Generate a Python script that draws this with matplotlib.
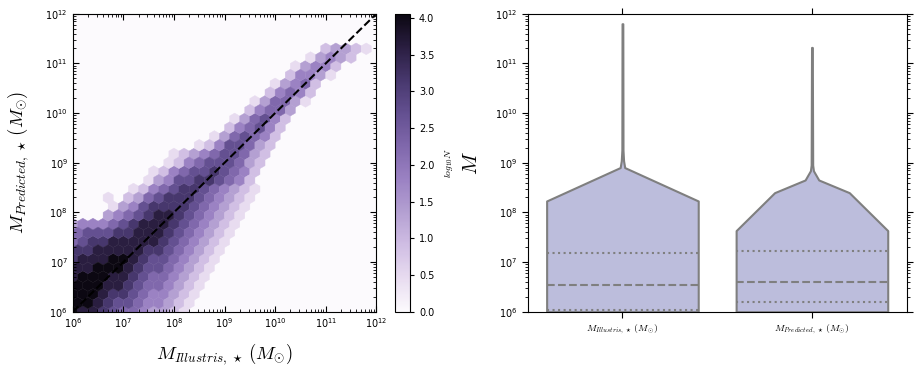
import numpy as np
import matplotlib
matplotlib.use("Agg")
import matplotlib.pyplot as plt
from matplotlib.colors import LinearSegmentedColormap

# hexbin cells (30 x 17 grid over 1e6..1e12 in both axes)
# rows go from the top row (k=30) down to the bottom row (k=0)
# digit d in a row -> log10 N ~ 0.45*d, '.' = empty cell
hex_first_col = [25, 23, 22, 21, 20, 19, 18, 17, 16, 15, 14, 12, 10, 9, 8, 7,
                 6, 3, 4, 3, 0, 0, 0, 0, 0, 0, 0, 0, 0, 0, 0]
hex_levels = [
    "23321",
    "13432",
    "13442",
    "24431",
    "13452",
    "24542",
    "135531",
    "24553",
    "135642",
    "245642",
    "1356542",
    "12466532",
    "1234566532",
    "1245666532",
    "12456676542",
    "13466776542",
    "1245677654321",
    "1.2356777654321",
    "13467777654321",
    "34567887654321",
    "34445678887654321",
    "5666778887654321",
    "5677888887654321",
    "778888877654321",
    "788899876654321",
    "88999876654321",
    "89998876554321",
    "9998876554321",
    "9998776544321",
    "998766544321",
    "988765543321",
]

# violin outlines (mass, half width) and quartiles
violin_labels = [r'$M_{Illustris,\,\star}\,(M_{\odot})$',
                 r'$M_{Predicted,\,\star}\,(M_{\odot})$']
illustris_y = [1e6, 1.7e8, 8.0e8, 1.1e9, 1.8e9, 6.3e11]
illustris_w = [0.40, 0.40, 0.012, 0.006, 0.003, 0.002]
predicted_y = [1e6, 4.3e7, 2.5e8, 4.5e8, 6.9e8, 9.0e8, 2.1e11]
predicted_w = [0.40, 0.40, 0.197, 0.036, 0.008, 0.004, 0.002]
illustris_q = [1.08e6, 3.4e6, 1.55e7]
predicted_q = [1.57e6, 4.0e6, 1.66e7]

cb_colors = [(252, 250, 253), (232, 220, 240), (208, 190, 228), (180, 160, 210),
             (155, 130, 195), (128, 104, 172), (100, 80, 145), (72, 56, 110),
             (42, 30, 65), (12, 8, 18)]
cmap = LinearSegmentedColormap.from_list(
    "hexpurple", [tuple(c / 255 for c in rgb) for rgb in cb_colors])

plt.rcParams['mathtext.fontset'] = 'dejavusans'
plt.rcParams['font.size'] = 7

fig = plt.figure(figsize=(9.15, 3.72), dpi=100)
ax1 = fig.add_axes([0.0795, 0.162, 0.3318, 0.801])
cax = fig.add_axes([0.4317, 0.162, 0.0164, 0.7995])
ax2 = fig.add_axes([0.5767, 0.162, 0.4142, 0.801])

# --- left: hexbin ---
n_rows = len(hex_levels)
xs, ys, cs = [], [], []
for r, (first, levels) in enumerate(zip(hex_first_col, hex_levels)):
    k = n_rows - 1 - r
    for j, ch in enumerate(levels):
        if ch == '.':
            continue
        col = first + j + 0.5 * (k % 2)
        xs.append(10 ** (6 + col * 6 / 30))
        ys.append(10 ** (6 + k * 6 / 34))
        cs.append(int(ch) * 0.45)

ax1.set_facecolor(cmap(0.0))
hb = ax1.hexbin(xs, ys, C=cs, gridsize=(30, 17), extent=(6, 12, 6, 12),
                xscale='log', yscale='log', reduce_C_function=np.max,
                cmap=cmap, vmin=0, vmax=4.05, linewidths=0.3, edgecolors='face')
ax1.plot([1e6, 1e12], [1e6, 1e12], 'k--', lw=1.5)
ax1.set_xlim(1e6, 1e12)
ax1.set_ylim(1e6, 1e12)
ax1.tick_params(which='both', direction='in', top=True, right=True, labelsize=7)
ax1.tick_params(which='major', length=4)
ax1.tick_params(which='minor', length=2)
ax1.set_xlabel(r'$M_{Illustris,\,\star}\,(M_{\odot})$', fontsize=13.5,
               math_fontfamily='cm', labelpad=8)
ax1.set_ylabel(r'$M_{Predicted,\,\star}\,(M_{\odot})$', fontsize=13.5,
               math_fontfamily='cm', labelpad=10)

cb = fig.colorbar(hb, cax=cax, ticks=np.arange(0, 4.01, 0.5))
cb.ax.tick_params(labelsize=7, length=3)
cb.set_label(r'$log_{10}N$', fontsize=7, math_fontfamily='cm', labelpad=6)

# --- right: violins ---
for pos, (vy, vw, q) in enumerate([(illustris_y, illustris_w, illustris_q),
                                   (predicted_y, predicted_w, predicted_q)]):
    vy = np.array(vy)
    vw = np.array(vw)
    ax2.fill_betweenx(vy, pos - vw, pos + vw, facecolor='#bcbddc',
                      edgecolor='#7f7f7f', lw=1.5, zorder=2)
    for val, ls in zip(q, [':', '--', ':']):
        w = np.interp(np.log10(val), np.log10(vy), vw)
        ax2.plot([pos - w, pos + w], [val, val], color='#7f7f7f', ls=ls,
                 lw=1.5, zorder=3)

ax2.set_yscale('log')
ax2.set_ylim(1e6, 1e12)
ax2.set_xlim(-0.5, 1.5)
ax2.set_xticks([0, 1])
ax2.set_xticklabels(violin_labels, math_fontfamily='cm', fontsize=8.3)
ax2.tick_params(which='both', direction='out', top=True, right=True, labelsize=7)
ax2.tick_params(which='major', length=4)
ax2.tick_params(which='minor', length=2)
ax2.set_ylabel(r'$M$', fontsize=15, math_fontfamily='cm', labelpad=10)

fig.savefig("out.png", dpi=100)
